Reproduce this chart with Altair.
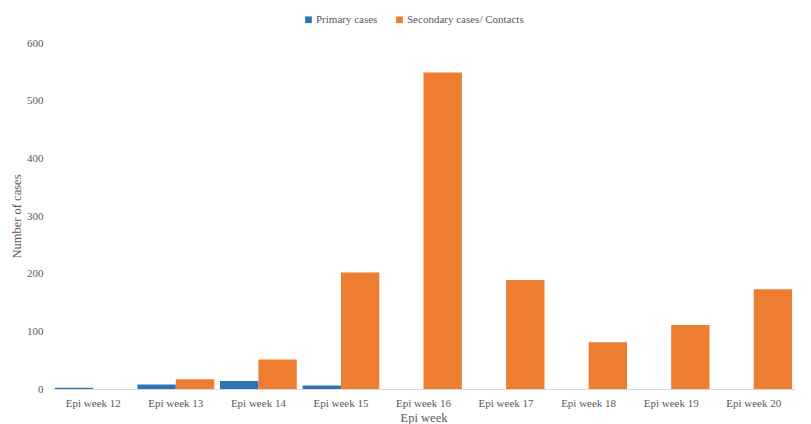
import altair as alt
import pandas as pd

weeks = ["Epi week 12", "Epi week 13", "Epi week 14", "Epi week 15", "Epi week 16",
         "Epi week 17", "Epi week 18", "Epi week 19", "Epi week 20"]
primary = [2, 8, 14, 6, 0, 0, 0, 0, 0]
secondary = [0, 17, 51, 202, 549, 189, 81, 111, 173]
series = ["Primary cases", "Secondary cases/ Contacts"]
colors = ["#2E75B6", "#ED7D31"]

rows = []
for w, p, s in zip(weeks, primary, secondary):
    rows.append({"week": w, "series": series[0], "value": p})
    rows.append({"week": w, "series": series[1], "value": s})
df = pd.DataFrame(rows)

FONT = "Times New Roman, Liberation Serif, DejaVu Serif, serif"
GREY = "#595959"

chart = alt.Chart(df).mark_bar().encode(
    x=alt.X("week:N", sort=weeks, title="Epi week",
            scale=alt.Scale(paddingInner=0.07, paddingOuter=0.035),
            axis=alt.Axis(labelAngle=0, ticks=False, domainColor="#D9D9D9",
                          labelPadding=8, titlePadding=3)),
    xOffset=alt.XOffset("series:N", sort=series, scale=alt.Scale(padding=0, paddingInner=0)),
    y=alt.Y("value:Q", title="Number of cases",
            scale=alt.Scale(domain=[0, 600], nice=False),
            axis=alt.Axis(values=[0, 100, 200, 300, 400, 500, 600], grid=False, domain=False,
                          ticks=False, labelPadding=9, titlePadding=3)),
    color=alt.Color("series:N", sort=series,
                    scale=alt.Scale(domain=series, range=colors),
                    legend=alt.Legend(title=None, orient="none", direction="horizontal",
                                      legendX=251, legendY=-29, symbolType="square",
                                      symbolSize=45, labelFontSize=11, columnPadding=16,
                                      symbolStrokeWidth=0, labelOffset=2)),
).properties(
    width=743, height=346,
    autosize=alt.AutoSizeParams(type="none"),
    padding={"left": 52, "top": 43, "right": 16, "bottom": 35},
).configure_view(stroke=None).configure_axis(
    labelFont=FONT, titleFont=FONT, labelColor=GREY, titleColor=GREY,
    labelFontSize=11, titleFontSize=12.5, titleFontWeight="normal",
).configure_legend(labelFont=FONT, labelColor=GREY)

chart.save("out.html", embed_options={"renderer": "svg", "actions": False})
